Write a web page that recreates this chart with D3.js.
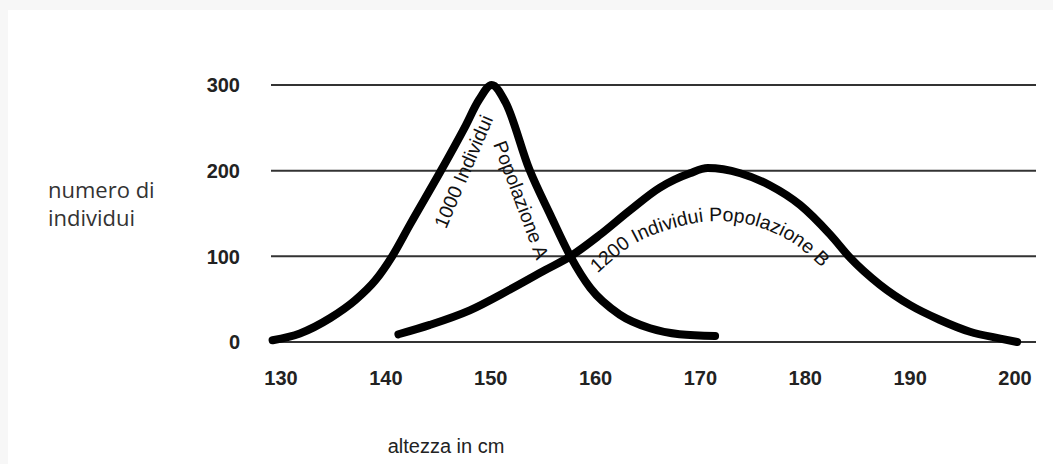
<!DOCTYPE html>
<html>
<head>
<meta charset="utf-8">
<script src="https://cdn.jsdelivr.net/npm/d3@7"></script>
<style>
  body { margin: 0; background: #fff; }
  svg { display: block; }
</style>
</head>
<body>
<svg></svg>
<script>
// data
const heightsA = [129.2, 131.8, 134.7, 137.1, 139, 140.6, 142.3, 145.3, 147.5, 148.9, 150.1, 151.4, 153.7, 155.7, 157.6, 159.5, 162.3, 165.2, 168, 171.4];
const countsA  = [2, 10, 28, 49, 72, 100, 137, 201, 250, 283, 300, 280, 201, 148, 100, 63, 32, 16, 9, 7];

const heightsB = [141.2, 144.2, 148, 151.8, 155.2, 157.6, 160.4, 163.3, 166.1, 169, 170.7, 173.8, 176.6, 179.5, 182.4, 184.3, 187.1, 190, 192.8, 195.7, 198.6, 200.2];
const countsB  = [9, 20, 37, 61, 84, 100, 125, 154, 180, 197, 203, 197, 183, 160, 125, 98, 67, 43, 26, 12, 4, 0];

// baseline of the curved label under curve B
const arcHeights = [160.2, 163.6, 167.2, 171.1, 175, 178.9, 182.3];
const arcCounts  = [80, 114, 132, 141, 136, 115, 78];

const xTicks = [130, 140, 150, 160, 170, 180, 190, 200];
const yTicks = [0, 100, 200, 300];

const W = 1053, H = 464;

const svg = d3.select("svg")
  .attr("width", W)
  .attr("height", H);

// faint border on top / left edge
svg.append("rect").attr("x", 0).attr("y", 0).attr("width", W).attr("height", 10).attr("fill", "#f7f7f7");
svg.append("rect").attr("x", 0).attr("y", 0).attr("width", 8).attr("height", H).attr("fill", "#f7f7f7");

const x = d3.scaleLinear().domain([130, 200]).range([281, 1015]);
const y = d3.scaleLinear().domain([0, 300]).range([342, 85]);

// grid lines
svg.append("g")
  .selectAll("line")
  .data(yTicks)
  .join("line")
  .attr("x1", x(130) - 10)
  .attr("x2", x(200) + 21)
  .attr("y1", d => y(d))
  .attr("y2", d => y(d))
  .attr("stroke", "#333")
  .attr("stroke-width", 2);

const tickFont = "bold 20px 'Liberation Sans', Arial, sans-serif";

// y tick labels
svg.append("g")
  .selectAll("text")
  .data(yTicks)
  .join("text")
  .attr("x", 240)
  .attr("y", d => y(d))
  .attr("dy", "0.36em")
  .attr("text-anchor", "end")
  .style("font", tickFont)
  .style("fill", "#222")
  .text(d => d);

// x tick labels
svg.append("g")
  .selectAll("text")
  .data(xTicks)
  .join("text")
  .attr("x", d => x(d))
  .attr("y", 385)
  .attr("text-anchor", "middle")
  .style("font", tickFont)
  .style("fill", "#222")
  .text(d => d);

// axis titles
const yTitle = svg.append("text")
  .attr("x", 48)
  .attr("y", 198)
  .style("font", "22px 'Open Sans', sans-serif")
  .style("fill", "#333");
yTitle.append("tspan").attr("x", 48).text("numero di");
yTitle.append("tspan").attr("x", 48).attr("dy", 28).text("individui");

svg.append("text")
  .attr("x", 446)
  .attr("y", 453)
  .attr("text-anchor", "middle")
  .style("font", "20px 'Liberation Sans', Arial, sans-serif")
  .style("fill", "#222")
  .text("altezza in cm");

// curves
const line = d3.line()
  .x(d => x(d[0]))
  .y(d => y(d[1]))
  .curve(d3.curveMonotoneX);

const seriesA = heightsA.map((h, i) => [h, countsA[i]]);
const seriesB = heightsB.map((h, i) => [h, countsB[i]]);

svg.selectAll("path.curve")
  .data([seriesA, seriesB])
  .join("path")
  .attr("class", "curve")
  .attr("d", line)
  .attr("fill", "none")
  .attr("stroke", "#000")
  .attr("stroke-width", 8)
  .attr("stroke-linecap", "round")
  .attr("stroke-linejoin", "round");

// labels of population A, rotated along its two sides
const labelFont = "19.5px 'Liberation Sans', Arial, sans-serif";

svg.append("text")
  .attr("transform", `translate(${x(148)},${y(196)}) rotate(-66.8)`)
  .attr("text-anchor", "middle")
  .style("font", labelFont)
  .style("fill", "#111")
  .text("1000 Individui");

svg.append("text")
  .attr("transform", `translate(${x(152.3)},${y(163)}) rotate(69.5)`)
  .attr("text-anchor", "middle")
  .style("font", labelFont)
  .style("fill", "#111")
  .text("Popolazione A");

// label of population B, on an arc
const arcLine = d3.line()
  .x(d => x(d[0]))
  .y(d => y(d[1]))
  .curve(d3.curveCatmullRom);

svg.append("path")
  .attr("id", "arcB")
  .attr("d", arcLine(arcHeights.map((h, i) => [h, arcCounts[i]])))
  .attr("fill", "none");

svg.append("text")
  .style("font", labelFont)
  .style("fill", "#111")
  .append("textPath")
  .attr("href", "#arcB")
  .attr("startOffset", 0)
  .text("1200 Individui Popolazione B");
</script>
</body>
</html>
